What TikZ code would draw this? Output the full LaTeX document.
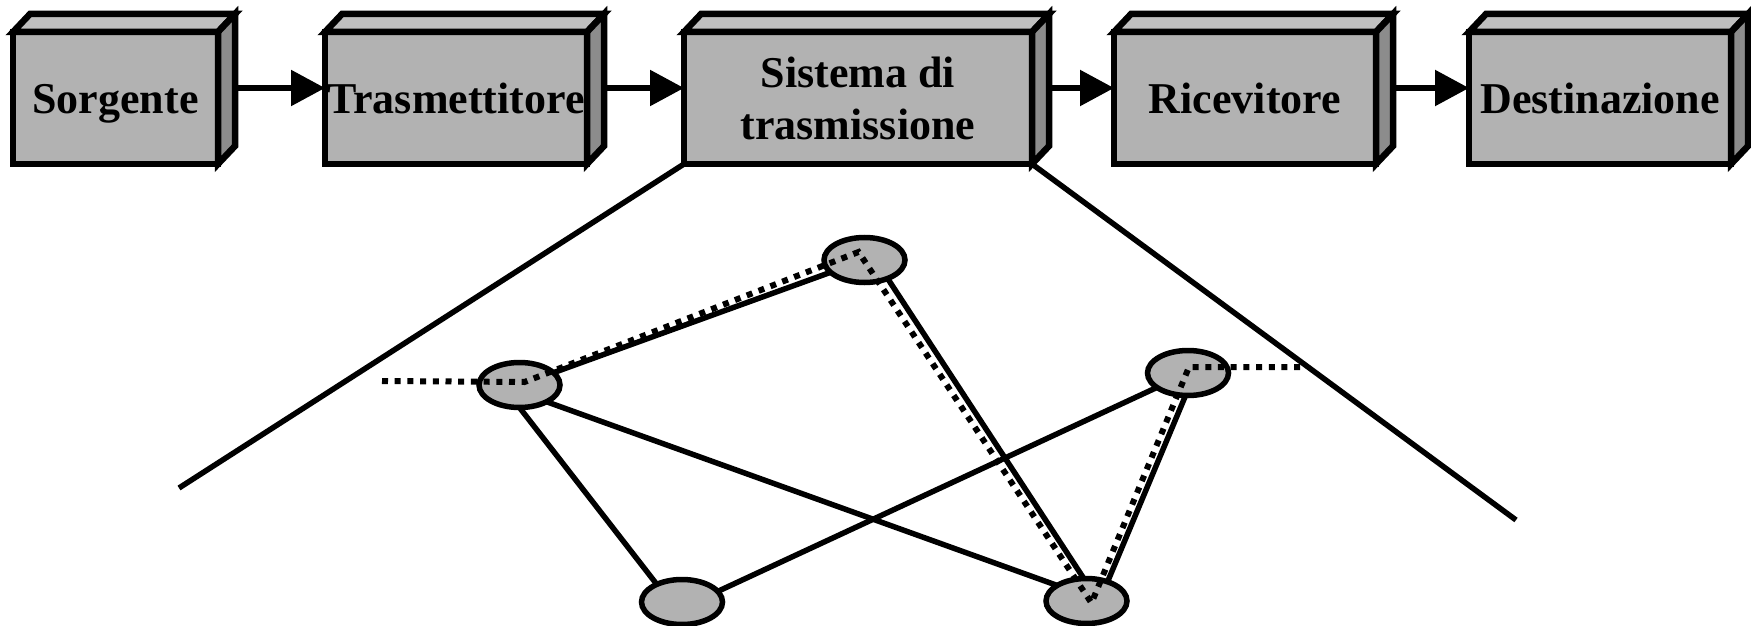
\documentclass[tikz,border=0pt]{standalone}
\usepackage{fontspec}
\setmainfont{Liberation Serif}
\usetikzlibrary{positioning}
\usetikzlibrary{shapes.geometric,arrows.meta,backgrounds}

\definecolor{facegray}{gray}{0.70}
\definecolor{topgray}{gray}{0.75}
\definecolor{sidegray}{gray}{0.55}

% top and right face of a block
\newcommand{\boxdepth}[1]{%
  \filldraw[fill=topgray,line width=3.25pt] (#1.north west) -- ++(17,-18) -- ([shift={(17,-18)}]#1.north east) -- (#1.north east) -- cycle;
  \filldraw[fill=sidegray,line width=3.25pt] (#1.north east) -- ++(17,-18) -- ([shift={(17,-18)}]#1.south east) -- (#1.south east) -- cycle;
}

\begin{document}
\begin{tikzpicture}[x=0.5pt,y=-0.5pt,
  block/.style={rectangle,draw,line width=3.25pt,fill=facegray,minimum height=66pt,inner sep=0pt,outer sep=0pt,align=center,font=\fontsize{22}{26}\selectfont\bfseries},
  oneline/.style={text height=15pt,text depth=0pt},
  flow/.style={-{Triangle[length=17pt,width=17.5pt]},line width=2.75pt},
  station/.style={ellipse,draw,line width=2.75pt,fill=facegray,minimum width=40.5pt,minimum height=22.5pt},
  link/.style={line width=2.75pt},
  route/.style={line width=3pt,dash pattern=on 3pt off 3.35pt}]
\useasboundingbox (0,0) rectangle (1751,626);

\node[block,oneline,minimum width=102.5pt] (sor) at (115.5,98) {Sorgente};
\node[block,oneline,minimum width=131pt,right=53.5pt of sor] (tra) {Trasmettitore};
\node[block,minimum width=174pt,right=48.5pt of tra] (sis) {Sistema di\\trasmissione};
\node[block,oneline,minimum width=131pt,right=41pt of sis] (ric) {Ricevitore};
\node[block,oneline,minimum width=131pt,right=46.5pt of ric] (dst) {Destinazione};

\boxdepth{sor}
\boxdepth{tra}
\boxdepth{sis}
\boxdepth{ric}
\boxdepth{dst}

\draw[flow] ([shift={(17,-10)}]sor.east) -- ([shift={(0,-10)}]tra.west);
\draw[flow] ([shift={(17,-10)}]tra.east) -- ([shift={(0,-10)}]sis.west);
\draw[flow] ([shift={(17,-10)}]sis.east) -- ([shift={(0,-10)}]ric.west);
\draw[flow] ([shift={(17,-10)}]ric.east) -- ([shift={(0,-10)}]dst.west);

% zoom into the channel
\coordinate (fanl) at (179,488);
\coordinate (fanr) at (1516,520);
\draw[link] (sis.south west) -- (fanl);
\draw[link] (sis.south east) -- (fanr);

\node[station] (n1) at (519.5,385) {};
\node[station] (n2) at (864.5,260) {};
\node[station] (n3) at (1188,373) {};
\node[station] (n4) at (682,602) {};
\node[station] (n5) at (1086.5,601) {};

\begin{scope}[on background layer]
\draw[link] (n1.center) -- (n2.center);
\draw[link] ([shift={(-17.5,0)}]n1.center) -- ([shift={(-11.5,0)}]n4.center);
\draw[link] ([shift={(0,7)}]n1.center) -- ([shift={(0,-5)}]n5.center);
\draw[link] ([shift={(11,0)}]n2.center) -- ([shift={(12,0)}]n5.center);
\draw[link] (n3.center) -- ([shift={(0,6)}]n4.center);
\draw[link] ([shift={(7,0)}]n3.center) -- ([shift={(13,0)}]n5.center);
\end{scope}

% path of the message
\coordinate (rin) at (382,381);
\coordinate (rout) at (1302,367);
\draw[route] (rin) -- ([shift={(5,-3)}]n1.center) -- ([shift={(-6,-8)}]n2.center) -- ([shift={(5,2)}]n5.center) -- ([shift={(1,-6)}]n3.center) -- (rout);

\end{tikzpicture}
\end{document}
